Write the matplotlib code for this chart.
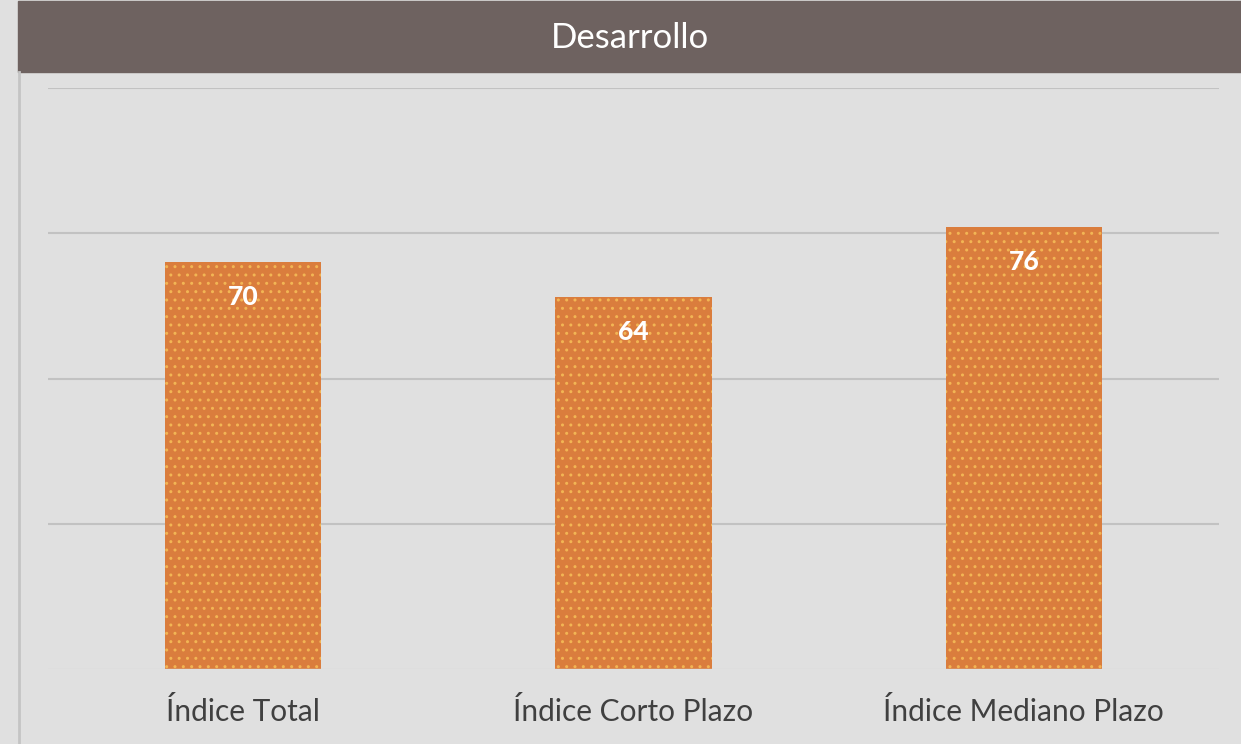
import numpy as np
import matplotlib as mpl; mpl.use('Agg'); import matplotlib.pyplot as plt
from matplotlib.patches import Rectangle
mpl.rcParams.update({'font.family':['Lato','DejaVu Sans'],'hatch.color':'#F2B554','hatch.linewidth':1.0})

title='Desarrollo'
cats=['Índice Total','Índice Corto Plazo','Índice Mediano Plazo']
vals=[70,64,76]

W,H=1241,744
fig=plt.figure(figsize=(W/100,H/100),dpi=100,facecolor='#E0E0E0')
# title band + left rule
fig.patches.append(Rectangle((18/W,1-72/H),1-18/W,71/H,transform=fig.transFigure,color='#6E6260',zorder=0))
fig.lines.append(plt.Line2D([19/W,19/W],[0,1-72/H],transform=fig.transFigure,color='#C4C4C4',lw=2))
fig.text((18+W)/2/W,1-38/H,title,color='white',fontsize=25,ha='center',va='center')

ax=fig.add_axes([48/W,1-669/H,(1219-48)/W,(669-88)/H])
ax.set_facecolor('#E0E0E0')
x=np.arange(len(cats))
ax.bar(x,vals,0.4,color='#DA7D3D',edgecolor='#F2B554',lw=0,hatch='..',zorder=2)
ax.set_xlim(-0.5,len(cats)-0.5); ax.set_ylim(0,100)
ax.set_yticks([25,50,75,100]); ax.yaxis.grid(True,color='#C2C2C2',lw=1.5,zorder=0)
ax.axhline(0,color='#D6D6D6',lw=1)
for s in ax.spines.values(): s.set_visible(False)
ax.tick_params(left=False,bottom=False,labelleft=False)
ax.set_xticks(x); ax.set_xticklabels(cats,fontsize=21.5,color='#404040')
ax.tick_params(axis='x',pad=17)
for xi,v in zip(x,vals):
    ax.text(xi,v-6,f'{v}',ha='center',va='center',color='white',fontsize=19,fontweight='black',zorder=3)
fig.savefig('out.png',dpi=100,facecolor=fig.get_facecolor())
